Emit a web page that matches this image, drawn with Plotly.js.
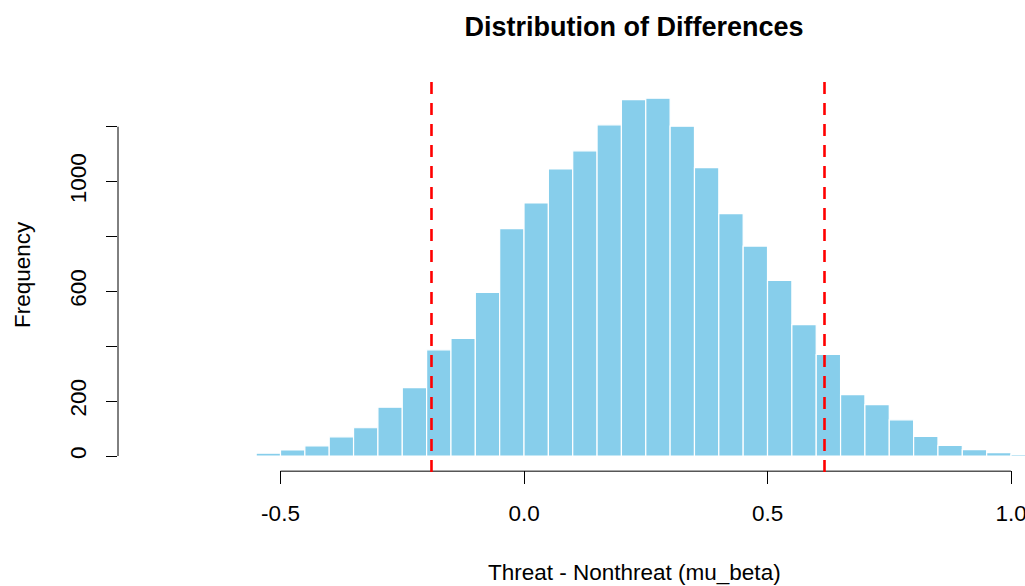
<!DOCTYPE html>
<html>
<head>
<meta charset="utf-8">
<script src="https://cdn.plot.ly/plotly-3.0.1.min.js"></script>
<style>html,body{margin:0;padding:0;background:#fff;}</style>
</head>
<body>
<div id="chart" style="width:1025px;height:586px;"></div>
<script>
// Histogram bin left edges (width 0.05) and counts
const binLefts = [-0.55,-0.50,-0.45,-0.40,-0.35,-0.30,-0.25,-0.20,-0.15,-0.10,-0.05,
                  0.00,0.05,0.10,0.15,0.20,0.25,0.30,0.35,0.40,0.45,0.50,0.55,0.60,
                  0.65,0.70,0.75,0.80,0.85,0.90,0.95,1.00];
const counts = [10,22,37,70,103,178,249,387,429,596,829,
                922,1046,1112,1207,1299,1304,1202,1051,883,765,640,479,370,
                224,187,132,71,39,23,12,6];
const binWidth = 0.05;
// Interval bounds (dashed red lines)
const intervalBounds = [-0.19, 0.617];
// Tick labels
const xTickVals = [-0.5, 0.0, 0.5, 1.0];
const xTickText = ['-0.5', '0.0', '0.5', '1.0'];
const yTickVals = [0, 200, 400, 600, 800, 1000, 1200];
const yTickText = ['0', '200', '', '600', '', '1000', ''];

const xRange = [-0.8337, 1.0287];
const yRange = [-51, 1355.7];
const px = v => (v - xRange[0]) / (xRange[1] - xRange[0]);
const py = v => (v - yRange[0]) / (yRange[1] - yRange[0]);

const centers = binLefts.map(l => l + binWidth / 2);
const FONT = 'Liberation Sans, Arial, sans-serif';

const trace = {
  type: 'bar',
  x: centers,
  y: counts,
  width: binWidth,
  marker: {color: '#87CEEB', line: {color: '#ffffff', width: 1.2}},
  hoverinfo: 'x+y'
};

const shapes = [
  // x axis line (first to last tick)
  {type: 'line', xref: 'paper', yref: 'paper',
   x0: px(xTickVals[0]), x1: px(xTickVals[xTickVals.length - 1]), y0: -0.003, y1: -0.003,
   line: {color: '#000', width: 1}},
  // y axis line (first to last tick)
  {type: 'line', xref: 'paper', yref: 'paper',
   x0: 0, x1: 0, y0: py(yTickVals[0]), y1: py(yTickVals[yTickVals.length - 1]),
   line: {color: '#000', width: 1}}
];
intervalBounds.forEach(b => {
  shapes.push({type: 'line', xref: 'paper', yref: 'paper',
    x0: px(b), x1: px(b), y0: -0.005, y1: 1.005,
    line: {color: '#ff0000', width: 2.6, dash: '12px,9px'}});
});

const layout = {
  width: 1025, height: 586,
  margin: {l: 118, r: 0, t: 84, b: 116, pad: 0},
  paper_bgcolor: '#fff', plot_bgcolor: '#fff',
  showlegend: false,
  bargap: 0,
  font: {family: FONT, color: '#000', size: 22.5},
  title: {text: 'Distribution of Differences', x: 634 / 1025, xanchor: 'center',
          xref: 'container', y: 1 - 27 / 586, yanchor: 'middle', yref: 'container',
          font: {family: FONT, size: 27, weight: 700, color: '#000'}},
  xaxis: {range: xRange, showgrid: false, zeroline: false, showline: false,
          tickmode: 'array', tickvals: xTickVals, ticktext: xTickText,
          ticks: 'outside', ticklen: 13, tickwidth: 1, tickcolor: '#000',
          ticklabelstandoff: 10, ticklabeloverflow: 'allow',
          tickfont: {family: FONT, size: 22.5, color: '#000'}, fixedrange: true},
  yaxis: {range: yRange, showgrid: false, zeroline: false, showline: false,
          tickmode: 'array', tickvals: yTickVals, ticktext: yTickText,
          ticks: 'outside', ticklen: 11, tickwidth: 1, tickcolor: '#000',
          tickangle: -90, ticklabelstandoff: 11,
          tickfont: {family: FONT, size: 22.5, color: '#000'}, fixedrange: true},
  shapes: shapes,
  annotations: [
    {text: 'Threat - Nonthreat (mu_beta)', xref: 'paper', yref: 'paper',
     x: (634 - 118) / 907, y: -(572 - 470) / 386, xanchor: 'center', yanchor: 'middle',
     showarrow: false, font: {family: FONT, size: 22.5, color: '#000'}},
    {text: 'Frequency', xref: 'paper', yref: 'paper', textangle: -90,
     x: -(118 - 22) / 907, y: (470 - 275) / 386, xanchor: 'center', yanchor: 'middle',
     showarrow: false, font: {family: FONT, size: 22.5, color: '#000'}}
  ]
};

Plotly.newPlot('chart', [trace], layout, {displayModeBar: false, staticPlot: true});
</script>
</body>
</html>
